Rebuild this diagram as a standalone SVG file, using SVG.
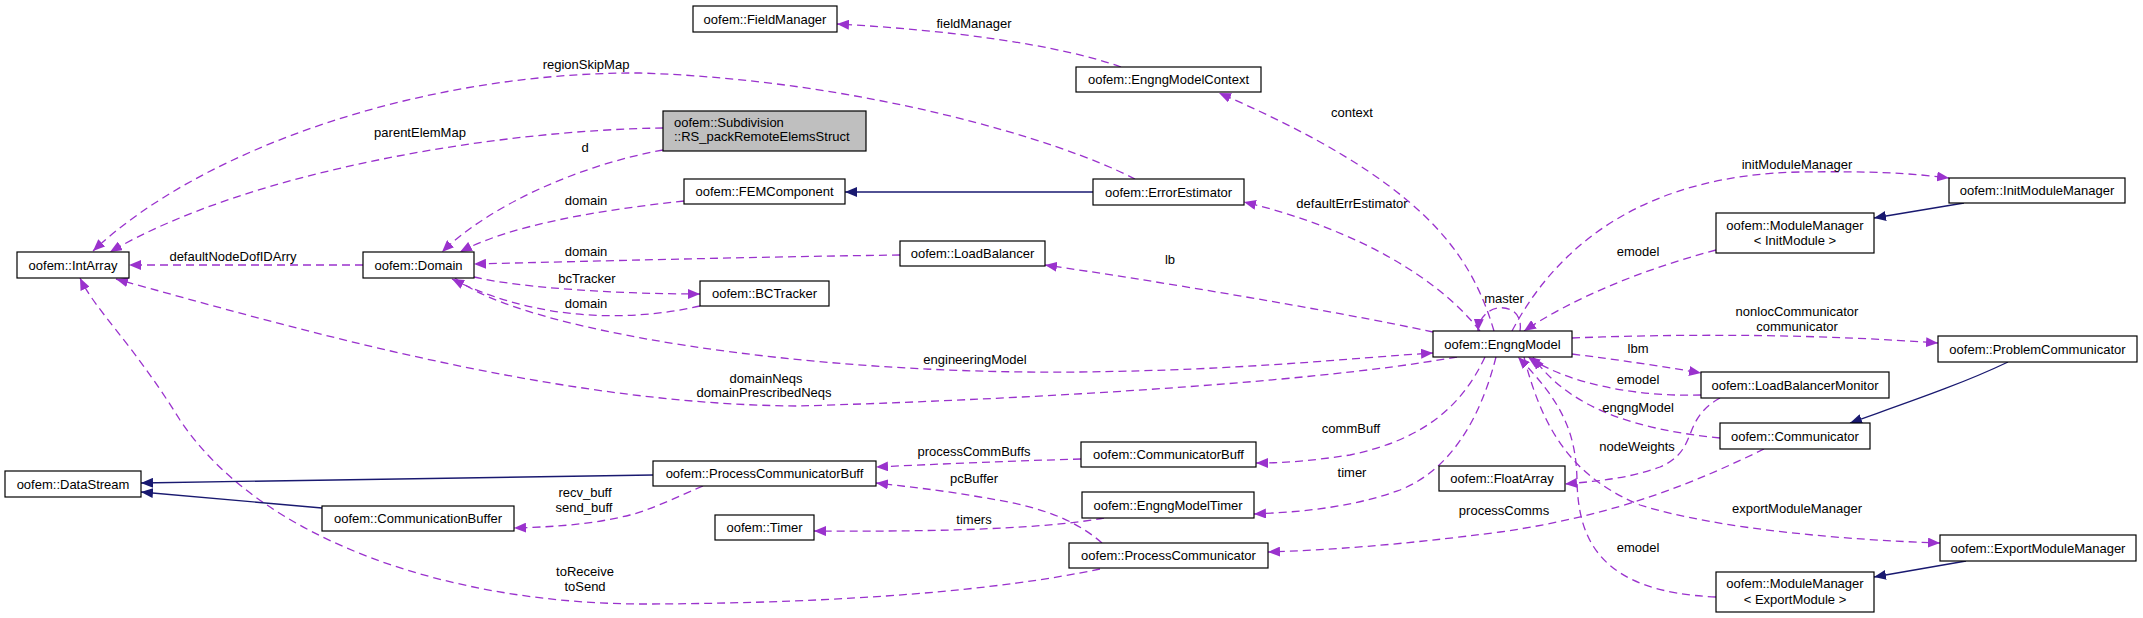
<svg xmlns="http://www.w3.org/2000/svg" width="2143" height="618" viewBox="0 0 2143 618">
<style>
.n rect{fill:#fff;stroke:#000;stroke-width:1.2}
.n text,.l{font-family:"Liberation Sans",Arial,sans-serif;font-size:13px;fill:#000}
.n text{text-anchor:middle}
.l{text-anchor:middle}
.e path.u{fill:none;stroke:#9a32cd;stroke-width:1.3;stroke-dasharray:8,5;marker-end:url(#ap)}
.e path.i{fill:none;stroke:#191970;stroke-width:1.3;marker-end:url(#an)}
</style>
<defs>
<marker id="ap" viewBox="0 0 12 10" refX="12" refY="5" markerWidth="12" markerHeight="10" markerUnits="userSpaceOnUse" orient="auto"><path d="M0,0 L12,5 L0,10 z" fill="#9a32cd"/></marker>
<marker id="an" viewBox="0 0 12 10" refX="12" refY="5" markerWidth="12" markerHeight="10" markerUnits="userSpaceOnUse" orient="auto"><path d="M0,0 L12,5 L0,10 z" fill="#191970"/></marker>
</defs>
<rect width="2143" height="618" fill="#fff"/>
<g id="connectors" class="e">
<path class="u" d="M1135,179 C1060,140 860,80 640,73 C420,72 200,150 93,251"/>
<path class="u" d="M663,128 C500,130 250,170 110,252"/>
<path class="u" d="M663,150 C580,165 490,205 442,252"/>
<path class="u" d="M684,201 C600,210 510,225 460,252"/>
<path class="u" d="M900,255 C750,257 600,261 474,264"/>
<path class="u" d="M474,277 C520,288 620,294 700,294"/>
<path class="u" d="M700,306 C620,324 530,318 452,279"/>
<path class="u" d="M363,265 L129,265"/>
<path class="u" d="M455,278 C520,330 800,375 1080,372 C1250,370 1350,358 1433,353"/>
<path class="u" d="M1457,357 C1300,385 1000,400 800,406 C560,405 300,330 116,279"/>
<path class="u" d="M1121,67 C1060,45 950,30 837,24"/>
<path class="u" d="M1494,331 C1470,250 1420,180 1219,93"/>
<path class="u" d="M1480,331 C1440,280 1360,230 1244,202"/>
<path class="u" d="M1520,331 C1525,300 1480,300 1478,331"/>
<path class="u" d="M1512,331 C1560,240 1650,175 1800,172 C1870,171 1910,173 1949,178"/>
<path class="u" d="M1716,250 C1640,270 1570,300 1524,331"/>
<path class="u" d="M1433,332 C1330,310 1150,280 1045,265"/>
<path class="u" d="M1572,338 C1700,333 1830,335 1938,343"/>
<path class="u" d="M1572,354 C1620,360 1660,366 1701,373"/>
<path class="u" d="M1701,395 C1640,397 1570,385 1528,357"/>
<path class="u" d="M1720,438 C1640,430 1570,410 1533,357"/>
<path class="u" d="M1720,398 C1680,420 1700,450 1660,467 C1630,478 1600,481 1565,484"/>
<path class="u" d="M1764,449 C1700,480 1620,515 1500,532 C1400,545 1330,550 1268,552"/>
<path class="u" d="M1524,357 C1545,440 1580,480 1640,505 C1720,530 1850,540 1940,543"/>
<path class="u" d="M1716,597 C1600,592 1578,540 1577,480 C1576,430 1560,400 1518,357"/>
<path class="u" d="M1485,357 C1460,410 1420,440 1350,455 C1310,461 1285,463 1256,463"/>
<path class="u" d="M1496,357 C1480,420 1450,470 1400,490 C1350,508 1300,512 1254,514"/>
<path class="u" d="M1081,459 C1010,461 940,464 876,467"/>
<path class="u" d="M1102,543 C1070,515 1030,505 980,497 C940,490 910,487 876,483"/>
<path class="u" d="M1104,518 C1050,528 950,532 814,531"/>
<path class="u" d="M703,486 C670,500 650,510 630,515 C590,525 550,527 514,528"/>
<path class="u" d="M1100,569 C1000,590 850,603 650,604 C450,605 260,540 180,420 C130,340 95,310 80,278"/>
<path class="i" d="M1093,192 L845,192"/>
<path class="i" d="M1964,203 L1874,218"/>
<path class="i" d="M2008,362 C1960,385 1900,405 1850,423"/>
<path class="i" d="M1966,561 L1874,577"/>
<path class="i" d="M653,475 L141,483"/>
<path class="i" d="M322,508 L141,492"/>
<text class="l" x="586" y="69">regionSkipMap</text>
<text class="l" x="420" y="137">parentElemMap</text>
<text class="l" x="585" y="152">d</text>
<text class="l" x="586" y="205">domain</text>
<text class="l" x="233" y="261">defaultNodeDofIDArry</text>
<text class="l" x="586" y="256">domain</text>
<text class="l" x="587" y="283">bcTracker</text>
<text class="l" x="586" y="308">domain</text>
<text class="l" x="974" y="28">fieldManager</text>
<text class="l" x="1352" y="117">context</text>
<text class="l" x="1352" y="208">defaultErrEstimator</text>
<text class="l" x="1170" y="264">lb</text>
<text class="l" x="1504" y="303">master</text>
<text class="l" x="1797" y="169">initModuleManager</text>
<text class="l" x="1638" y="256">emodel</text>
<text class="l" x="1797" y="316">nonlocCommunicator</text>
<text class="l" x="1797" y="331">communicator</text>
<text class="l" x="1638" y="353">lbm</text>
<text class="l" x="1638" y="384">emodel</text>
<text class="l" x="1638" y="412">engngModel</text>
<text class="l" x="1637" y="451">nodeWeights</text>
<text class="l" x="1504" y="515">processComms</text>
<text class="l" x="1797" y="513">exportModuleManager</text>
<text class="l" x="1638" y="552">emodel</text>
<text class="l" x="975" y="364">engineeringModel</text>
<text class="l" x="766" y="383">domainNeqs</text>
<text class="l" x="764" y="397">domainPrescribedNeqs</text>
<text class="l" x="1351" y="433">commBuff</text>
<text class="l" x="1352" y="477">timer</text>
<text class="l" x="974" y="456">processCommBuffs</text>
<text class="l" x="974" y="483">pcBuffer</text>
<text class="l" x="974" y="524">timers</text>
<text class="l" x="585" y="497">recv_buff</text>
<text class="l" x="584" y="512">send_buff</text>
<text class="l" x="585" y="576">toReceive</text>
<text class="l" x="585" y="591">toSend</text>
</g>
<g id="IntArray" class="n"><rect x="17" y="252" width="112" height="26"/><text x="73" y="269.5">oofem::IntArray</text></g>
<g id="Domain" class="n"><rect x="363" y="252" width="111" height="26"/><text x="418.5" y="269.5">oofem::Domain</text></g>
<g id="RS_packRemoteElemsStruct" class="n"><rect x="663" y="111" width="203" height="40" style="fill:#bfbfbf"/><text x="674" y="127" style="text-anchor:start">oofem::Subdivision</text><text x="674" y="141" style="text-anchor:start">::RS_packRemoteElemsStruct</text></g>
<g id="FieldManager" class="n"><rect x="693" y="6" width="144" height="26"/><text x="765" y="23.5">oofem::FieldManager</text></g>
<g id="EngngModelContext" class="n"><rect x="1076" y="67" width="185" height="25"/><text x="1168.5" y="84">oofem::EngngModelContext</text></g>
<g id="FEMComponent" class="n"><rect x="684" y="179" width="161" height="25"/><text x="764.5" y="196">oofem::FEMComponent</text></g>
<g id="ErrorEstimator" class="n"><rect x="1093" y="179" width="151" height="26"/><text x="1168.5" y="196.5">oofem::ErrorEstimator</text></g>
<g id="LoadBalancer" class="n"><rect x="900" y="241" width="145" height="25"/><text x="972.5" y="258">oofem::LoadBalancer</text></g>
<g id="BCTracker" class="n"><rect x="700" y="281" width="129" height="25"/><text x="764.5" y="298">oofem::BCTracker</text></g>
<g id="InitModuleManager" class="n"><rect x="1949" y="178" width="176" height="25"/><text x="2037" y="195">oofem::InitModuleManager</text></g>
<g id="ModuleManagerInit" class="n"><rect x="1716" y="213" width="158" height="40"/><text x="1795" y="229.5">oofem::ModuleManager</text><text x="1795" y="244.5">&lt; InitModule &gt;</text></g>
<g id="EngngModel" class="n"><rect x="1433" y="331" width="139" height="26"/><text x="1502.5" y="348.5">oofem::EngngModel</text></g>
<g id="ProblemCommunicator" class="n"><rect x="1938" y="336" width="199" height="26"/><text x="2037.5" y="353.5">oofem::ProblemCommunicator</text></g>
<g id="LoadBalancerMonitor" class="n"><rect x="1701" y="372" width="188" height="26"/><text x="1795" y="389.5">oofem::LoadBalancerMonitor</text></g>
<g id="Communicator" class="n"><rect x="1720" y="423" width="150" height="26"/><text x="1795" y="440.5">oofem::Communicator</text></g>
<g id="FloatArray" class="n"><rect x="1439" y="466" width="126" height="25"/><text x="1502" y="483">oofem::FloatArray</text></g>
<g id="ExportModuleManager" class="n"><rect x="1940" y="535" width="196" height="26"/><text x="2038" y="552.5">oofem::ExportModuleManager</text></g>
<g id="ModuleManagerExport" class="n"><rect x="1716" y="572" width="158" height="40"/><text x="1795" y="588">oofem::ModuleManager</text><text x="1795" y="603.5">&lt; ExportModule &gt;</text></g>
<g id="DataStream" class="n"><rect x="5" y="471" width="136" height="26"/><text x="73" y="488.5">oofem::DataStream</text></g>
<g id="CommunicationBuffer" class="n"><rect x="322" y="506" width="192" height="25"/><text x="418" y="523">oofem::CommunicationBuffer</text></g>
<g id="ProcessCommunicatorBuff" class="n"><rect x="653" y="461" width="223" height="25"/><text x="764.5" y="478">oofem::ProcessCommunicatorBuff</text></g>
<g id="CommunicatorBuff" class="n"><rect x="1081" y="442" width="175" height="25"/><text x="1168.5" y="459">oofem::CommunicatorBuff</text></g>
<g id="EngngModelTimer" class="n"><rect x="1082" y="492" width="172" height="26"/><text x="1168" y="509.5">oofem::EngngModelTimer</text></g>
<g id="Timer" class="n"><rect x="715" y="515" width="99" height="25"/><text x="764.5" y="532">oofem::Timer</text></g>
<g id="ProcessCommunicator" class="n"><rect x="1069" y="543" width="199" height="25"/><text x="1168.5" y="560">oofem::ProcessCommunicator</text></g>
</svg>
